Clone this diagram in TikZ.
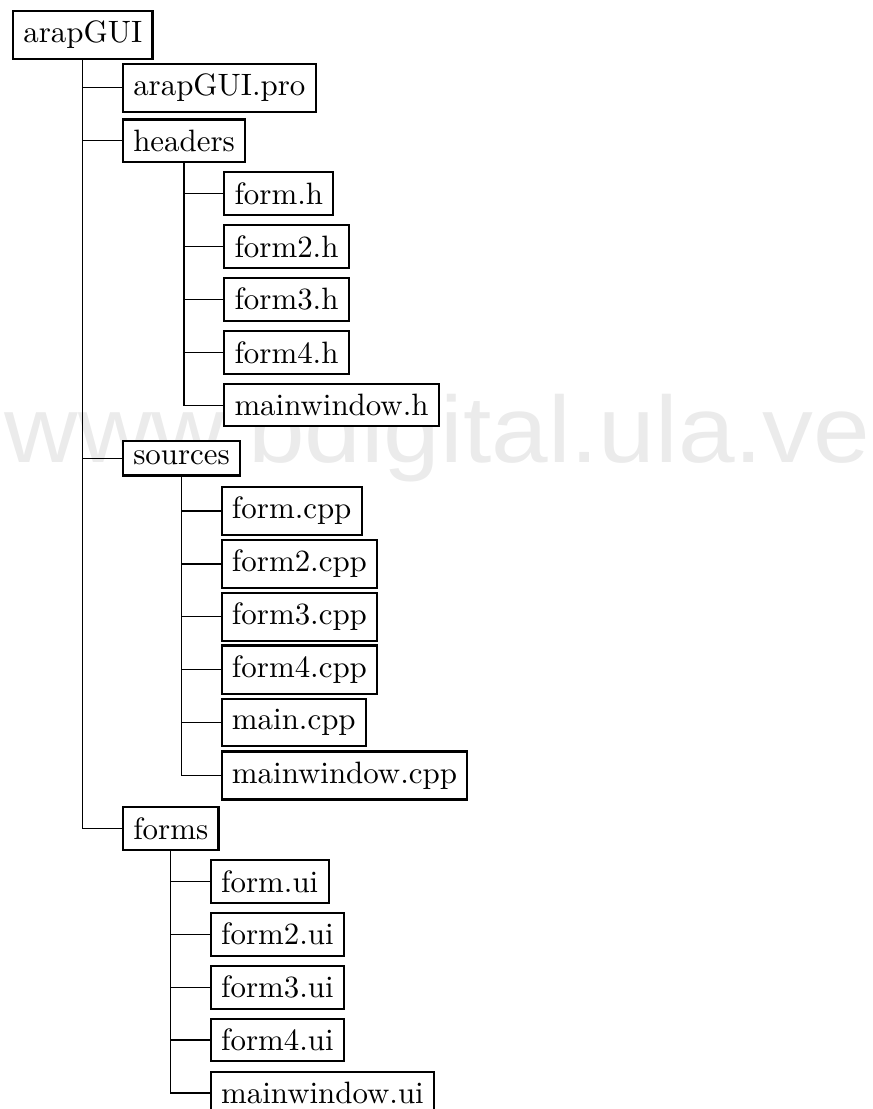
\documentclass[tikz,border=0pt]{standalone}
\usepackage{fontspec}
\newfontfamily\markfont{Liberation Sans}
\usetikzlibrary{positioning}
\tikzset{
  file/.style={draw, line width=0.7pt, fill=white, anchor=west, inner sep=3.33pt},
  branch/.style={line width=0.4pt},
}
\begin{document}
\begin{tikzpicture}[x=1pt, y=1pt]
  \def\rtop{11.3}
  \def\rstep{17.12}
  \def\dx{12.65pt}
  \useasboundingbox (0,0) rectangle (282.2,-358.9);
  % watermark behind the tree
  \node[anchor=base west, inner sep=0pt, text=black!8, xscale=1.08,
        font=\markfont\fontsize{30.5}{30.5}\selectfont] (mark) at (1.4,-149.8) {www.bdigital.ula.ve};
  \foreach \r in {0,...,20}
    \coordinate (row\r) at (0,{-\rtop-\r*\rstep});
  % top level
  \node[file] (root) at (row0 -| 3.9,0) {arapGUI};
  \coordinate (lv1) at ([xshift=\dx]root.south);
  \node[file] (pro) at (lv1 |- row1) {arapGUI.pro};
  \node[file] (headers) at (lv1 |- row2) {headers};
  \node[file] (sources) at (lv1 |- row8) {sources};
  \node[file] (forms) at (lv1 |- row15) {forms};
  \foreach \n in {pro,headers,sources,forms}
    \draw[branch] (root.south) |- (\n.west);
  % headers
  \coordinate (lvh) at ([xshift=\dx]headers.south);
  \foreach \f [count=\i from 3] in {form.h,form2.h,form3.h,form4.h,mainwindow.h} {
    \node[file] (h\i) at (lvh |- row\i) {\f};
    \draw[branch] (headers.south) |- (h\i.west);
  }
  % sources
  \coordinate (lvs) at ([xshift=\dx]sources.south);
  \foreach \f [count=\i from 9] in {form.cpp,form2.cpp,form3.cpp,form4.cpp,main.cpp,mainwindow.cpp} {
    \node[file] (s\i) at (lvs |- row\i) {\f};
    \draw[branch] (sources.south) |- (s\i.west);
  }
  % forms
  \coordinate (lvf) at ([xshift=\dx]forms.south);
  \foreach \f [count=\i from 16] in {form.ui,form2.ui,form3.ui,form4.ui,mainwindow.ui} {
    \node[file] (f\i) at (lvf |- row\i) {\f};
    \draw[branch] (forms.south) |- (f\i.west);
  }
\end{tikzpicture}
\end{document}
